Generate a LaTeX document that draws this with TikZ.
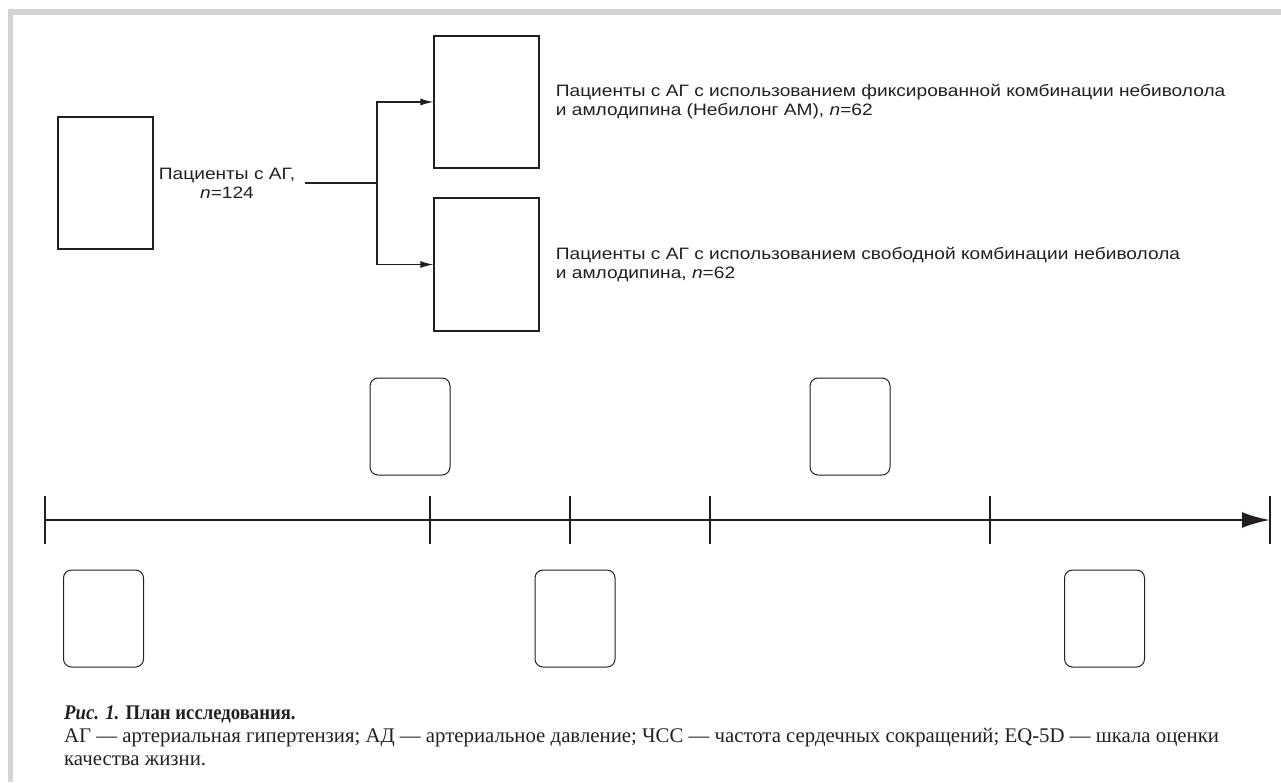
\documentclass[tikz,border=0pt]{standalone}
\usepackage{fontspec}
\setmainfont{Liberation Sans}[FakeStretch=1.16]
\newfontfamily\capfont{Liberation Serif}
\newfontfamily\capboldfont{Liberation Serif}[FakeStretch=0.9]
\usetikzlibrary{arrows.meta}
\definecolor{framegray}{HTML}{D4D4D4}
\definecolor{ink}{HTML}{231F20}
\begin{document}
\begin{tikzpicture}[x=1pt,y=-1pt,
  sqbox/.style={draw=ink, line width=1.3pt, inner sep=0pt},
  rbox/.style={draw=ink, line width=1pt, rounded corners=8pt, inner sep=0pt, minimum width=80pt, minimum height=97pt},
  lbl/.style={inner sep=0pt, text=ink, font=\fontsize{16.5}{19}\selectfont, align=left},
  conn/.style={draw=ink, line width=1.2pt},
  arr/.style={conn, -{Latex[length=13pt,width=7pt]}},
  tick/.style={draw=ink, line width=2.2pt},
  capt/.style={inner sep=0pt, text=ink, anchor=base west, font=\capfont\fontsize{20.8}{23}\selectfont}
]
\useasboundingbox (0,0) rectangle (1281,782);
% frame
\fill[framegray] (8,9) rectangle (1281,15);
\fill[framegray] (8,9) rectangle (13,782);

% top flow
\node[sqbox, minimum width=95pt, minimum height=132pt] (src) at (105.5,183) {};
\node[lbl, align=center] (srclbl) at (227,183) {Пациенты с АГ,\\\textit{n}=124};
\node[sqbox, minimum width=105pt, minimum height=132pt] (g1) at (486.5,102) {};
\node[sqbox, minimum width=105pt, minimum height=133pt] (g2) at (486.5,264.5) {};
\node[lbl, anchor=west] (g1lbl) at ([xshift=16pt]g1.east) {Пациенты с АГ с использованием фиксированной комбинации небиволола\\и амлодипина (Небилонг АМ), \textit{n}=62};
\node[lbl, anchor=west] (g2lbl) at ([xshift=16pt]g2.east) {Пациенты с АГ с использованием свободной комбинации небиволола\\и амлодипина, \textit{n}=62};
\coordinate (fork) at (377,183);
\draw[conn] ([xshift=10pt]srclbl.east) -- (fork);
\draw[arr] (fork) |- (g1.west);
\draw[arr] (fork) |- (g2.west);

% timeline
\coordinate (t0) at (45,520);
\coordinate (t1) at (430,520);
\coordinate (t2) at (570,520);
\coordinate (t3) at (710,520);
\coordinate (t4) at (990,520);
\coordinate (t5) at (1270,520);
\draw[draw=ink, line width=2.6pt, -{Latex[length=28pt,width=16pt]}] (t0) -- (t5);
\foreach \t in {t0,t1,t2,t3,t4,t5}
  \draw[tick] ([yshift=-24pt]\t) -- ([yshift=24pt]\t);

\node[rbox] (v1) at (410,426.5) {};
\node[rbox] (v2) at (850,426.5) {};
\node[rbox] (w1) at (103.5,618.5) {};
\node[rbox] (w2) at (575,618.5) {};
\node[rbox] (w3) at (1104.5,618.5) {};

% caption
\node[capt, font=\capboldfont\fontsize{20.8}{23}\selectfont] (cap1) at (64,719) {\textbf{\textit{Рис. 1.}} \textbf{План исследования.}};
\node[capt] (cap2) at (64,742) {АГ — артериальная гипертензия; АД — артериальное давление; ЧСС — частота сердечных сокращений; EQ-5D — шкала оценки};
\node[capt] (cap3) at (64,765) {качества жизни.};
\end{tikzpicture}
\end{document}
